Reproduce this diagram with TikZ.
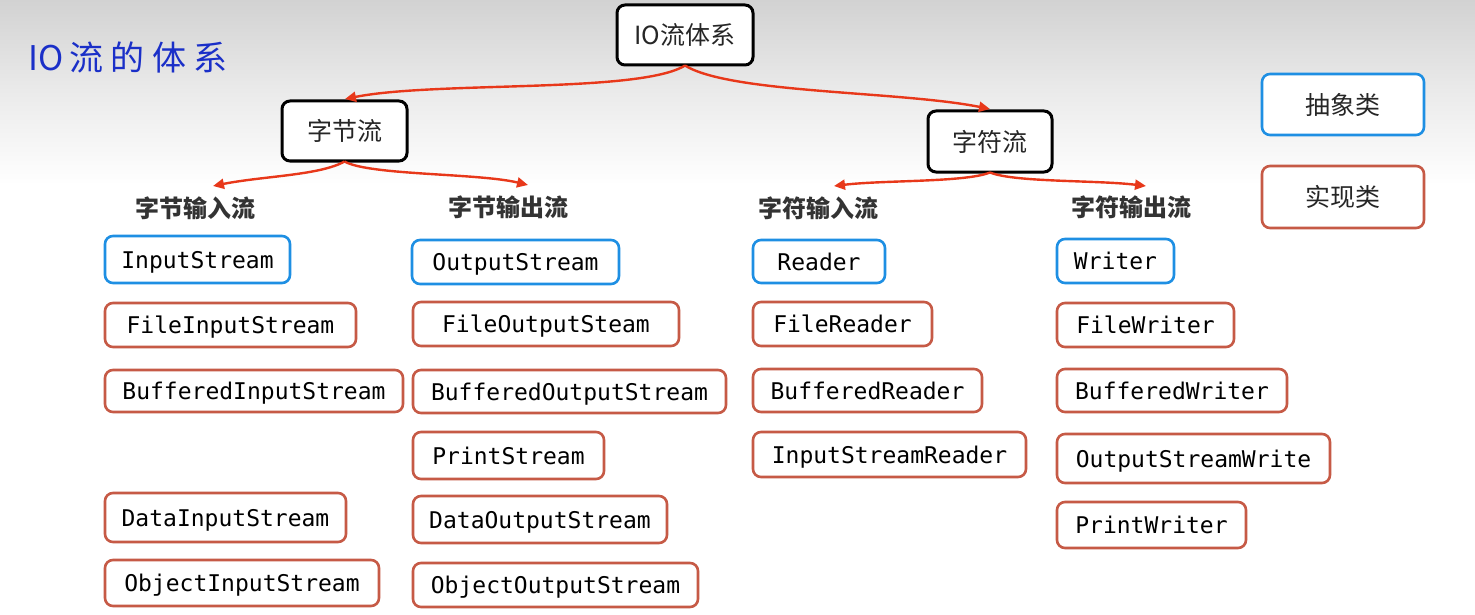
\documentclass[tikz,border=0pt]{standalone}
\usepackage{fontspec}
\setmonofont{DejaVu Sans Mono}
\newfontfamily\cjk{Noto Sans CJK SC}
\newfontfamily\cjktitle[LetterSpace=22]{Noto Sans CJK SC}
\usetikzlibrary{arrows.meta,calc}
\definecolor{absblue}{HTML}{1E8FE3}
\definecolor{implred}{HTML}{C65A46}
\definecolor{arrred}{HTML}{E8381A}
\definecolor{titleblue}{HTML}{1A2FC8}
\definecolor{bgtop}{HTML}{D2D2D2}
\newcommand\mybox[6]{\node[#1, minimum width=#4pt, minimum height=#5pt] (#2) at (#3) {#6};}
\begin{document}
\begin{tikzpicture}[x=1pt,y=-1pt,
  blk/.style={draw=black, line width=3pt, rounded corners=8pt, fill=white, inner sep=0pt,
              font=\cjk\fontsize{25}{30}\selectfont, text=black!85},
  absbox/.style={draw=absblue, line width=2.6pt, rounded corners=8pt, fill=white, inner sep=0pt,
              font=\ttfamily\fontsize{23}{28}\selectfont, text=black, text height=17pt, text depth=0pt},
  implbox/.style={draw=implred, line width=2.6pt, rounded corners=8pt, fill=white, inner sep=0pt,
              font=\ttfamily\fontsize{23}{28}\selectfont, text=black, text height=17pt, text depth=0pt},
  legabs/.style={draw=absblue, line width=2.6pt, rounded corners=8pt, fill=white, inner sep=0pt,
              font=\cjk\fontsize{25}{30}\selectfont, text=black!85},
  legimpl/.style={draw=implred, line width=2.6pt, rounded corners=8pt, fill=white, inner sep=0pt,
              font=\cjk\fontsize{25}{30}\selectfont, text=black!85},
  grp/.style={font=\cjk\bfseries\fontsize{24}{28}\selectfont, text=black!80, inner sep=0pt},
  arr/.style={draw=arrred, line width=2.4pt, -{Triangle[length=11pt,width=10pt]}}
]
\useasboundingbox (0,0) rectangle (1475,615);
\fill[white] (0,0) rectangle (1475,615);
\shade[top color=bgtop, bottom color=white, middle color=black!8] (0,0) rectangle (1475,185);

\node[font=\fontsize{34}{38}\selectfont, text=titleblue, anchor=west, inner sep=0pt] (title) at (28,57) {\cjk IO\hspace{6pt}\cjktitle 流的体系};

% top level
\mybox{blk}{io}{685,35}{136}{60}{IO流体系}
\mybox{blk}{byte}{344.5,131}{125}{60}{字节流}
\mybox{blk}{char}{990,141.5}{124}{61}{字符流}

% legend
\mybox{legabs}{abs}{1343,104.5}{162}{61}{抽象类}
\mybox{legimpl}{impl}{1343,197}{162}{62}{实现类}

% group labels
\node[grp] (ibl) at (195,208) {字节输入流};
\node[grp] (obl) at (508,207) {字节输出流};
\node[grp] (icl) at (818,208) {字符输入流};
\node[grp] (ocl) at (1131,207) {字符输出流};

% arrow end points
\coordinate (tb) at (345,99);
\coordinate (tc) at (990,109);
\coordinate (t1) at (213,186);
\coordinate (t2) at (528,185);
\coordinate (t3) at (834,186);
\coordinate (t4) at (1146,186);

\draw[arr] ($(io.south)+(0,-1)$) .. controls +(-45,28) and +(90,-18) .. (tb);
\draw[arr] ($(io.south)+(0,-1)$) .. controls +(45,28) and +(-90,-18) .. (tc);
\draw[arr] ($(byte.south)+(0,-1)$) .. controls +(-25,14) and +(50,-10) .. (t1);
\draw[arr] ($(byte.south)+(0,-1)$) .. controls +(25,14) and +(-50,-12) .. (t2);
\draw[arr] ($(char.south)+(0,-1)$) .. controls +(-25,10) and +(50,-6) .. (t3);
\draw[arr] ($(char.south)+(0,-1)$) .. controls +(25,10) and +(-50,-6) .. (t4);

% column 1
\mybox{absbox}{is}{197.5,259.5}{185}{47}{InputStream}
\mybox{implbox}{fis}{230.5,325}{251}{44}{FileInputStream}
\mybox{implbox}{bis}{254,391}{298}{42}{BufferedInputStream}
\mybox{implbox}{dis}{225.5,517.5}{241}{49}{DataInputStream}
\mybox{implbox}{ois}{242,583}{274}{46}{ObjectInputStream}

% column 2
\mybox{absbox}{os}{515.5,262}{207}{44}{OutputStream}
\mybox{implbox}{fos}{546,324}{266}{44}{FileOutputSteam}
\mybox{implbox}{bos}{569.5,391.5}{313}{43}{BufferedOutputStream}
\mybox{implbox}{ps}{508.5,455.5}{191}{47}{PrintStream}
\mybox{implbox}{dos}{540,519.5}{254}{47}{DataOutputStream}
\mybox{implbox}{oos}{555.5,585}{285}{44}{ObjectOutputStream}

% column 3
\mybox{absbox}{rd}{819,261.5}{132}{43}{Reader}
\mybox{implbox}{frd}{842.5,324}{179}{44}{FileReader}
\mybox{implbox}{brd}{867.5,390.5}{229}{43}{BufferedReader}
\mybox{implbox}{isr}{889.5,454.5}{273}{45}{InputStreamReader}

% column 4
\mybox{absbox}{wr}{1115.5,261}{117}{44}{Writer}
\mybox{implbox}{fwr}{1145.5,325}{177}{44}{FileWriter}
\mybox{implbox}{bwr}{1172,390.5}{230}{43}{BufferedWriter}
\mybox{implbox}{osw}{1193.5,458.5}{273}{49}{OutputStreamWrite}
\mybox{implbox}{pwr}{1151.5,525}{189}{46}{PrintWriter}
\end{tikzpicture}
\end{document}
